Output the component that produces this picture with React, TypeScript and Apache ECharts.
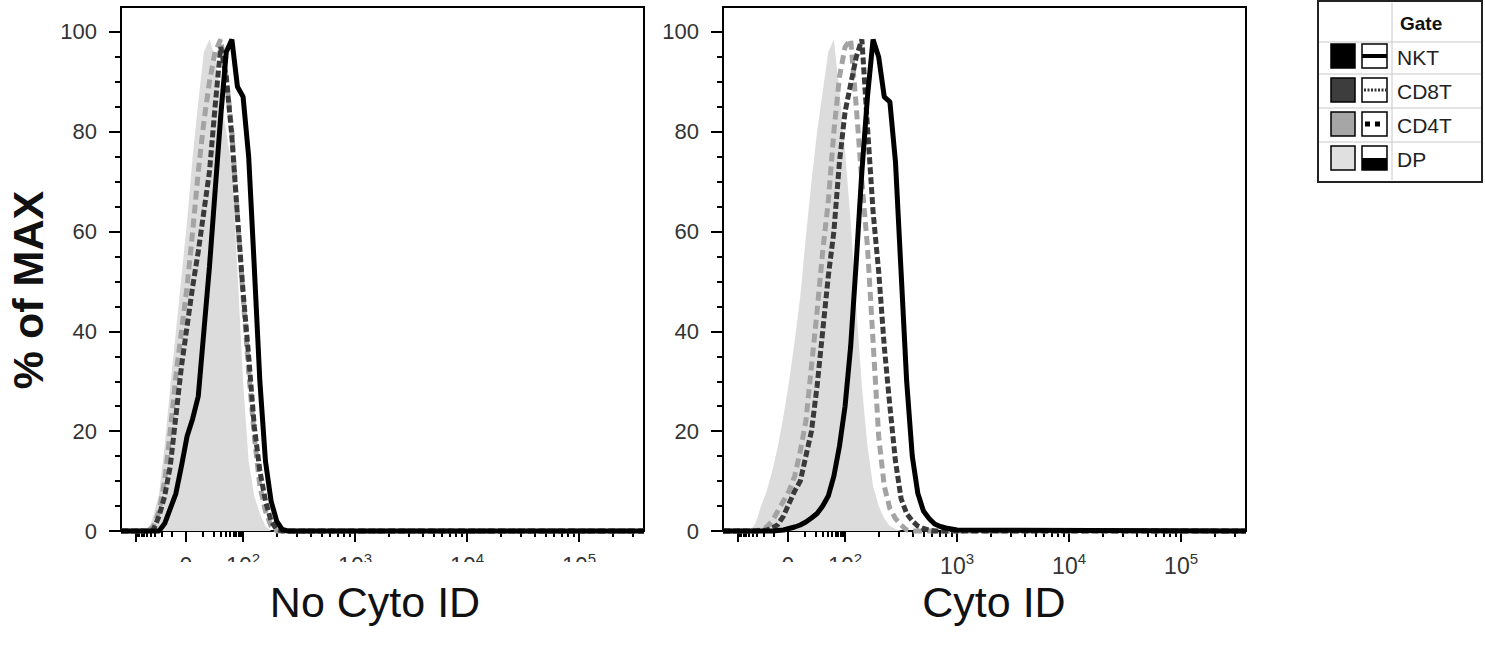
import React, { useEffect, useRef } from 'react';
import * as echarts from 'echarts';

// ---- axis design (display units: 2 = 10^2, 3 = 10^3 ...; biexponential region below 2) ----
const X_MIN = 0.91;
const X_MAX = 5.58;
const Y_MAX = 105;
const X_MAJOR_TICKS = [1.04, 1.49, 2, 3, 4, 5];
const X_LABEL_VALUES = [1.49, 2, 3, 4, 5];
const X_LABELS = ['{base|0}', '{base|10}{sup|2}', '{base|10}{sup|3}', '{base|10}{sup|4}', '{base|10}{sup|5}'];
const X_MINOR_TICKS = [
  1.056, 1.072, 1.094, 1.117, 1.143, 1.175, 1.215, 1.274, 1.36,
  1.64, 1.735, 1.8, 1.847, 1.883, 1.913, 1.939, 1.963, 1.982,
  2.301, 2.477, 2.602, 2.699, 2.778, 2.845, 2.903, 2.954,
  3.301, 3.477, 3.602, 3.699, 3.778, 3.845, 3.903, 3.954,
  4.301, 4.477, 4.602, 4.699, 4.778, 4.845, 4.903, 4.954,
  5.301, 5.477,
];
const Y_MAJOR = [0, 20, 40, 60, 80, 100];
const Y_MINOR = [5, 10, 15, 25, 30, 35, 45, 50, 55, 65, 70, 75, 85, 90, 95];

// ---- panel titles & gates ----
const PANEL_TITLES = ['No Cyto ID', 'Cyto ID'];
const GATES = ['NKT', 'CD8T', 'CD4T', 'DP'];
const GATE_SWATCH = ['#000000', '#3d3d3d', '#a6a6a6', '#e0e0e0'];

// ---- left panel (No Cyto ID) ----
const LEFT_X = [1.15, 1.2, 1.25, 1.3, 1.35, 1.4, 1.45, 1.5, 1.55, 1.6, 1.65, 1.7, 1.75, 1.8, 1.85, 1.9, 1.95, 2.0, 2.05, 2.1, 2.15, 2.2, 2.25, 2.3, 2.35, 2.4];
const LEFT_NKT = [0, 0, 0, 1.5, 4.5, 7.5, 13, 19, 22.5, 27, 40, 53, 68, 83, 96, 98.5, 89, 87, 75, 53, 30, 14, 6, 2, 0.3, 0];
const LEFT_CD8T = [0, 0.3, 3, 7, 13, 23, 33, 41, 49, 56, 64, 72, 85, 97, 91, 79, 63, 48, 35, 21, 12, 6, 2, 0.3, 0, 0];
const LEFT_CD4T = [0, 1, 4, 10, 20, 31, 40, 49, 60, 72, 82, 90, 96, 98.5, 91, 80, 63, 47, 32, 19, 9, 4, 1, 0, 0, 0];
const LEFT_DP = [0, 3, 7.5, 17, 29, 40, 51, 62, 75, 86, 96, 98.5, 95, 87, 80, 73, 52, 30, 14, 7, 3.5, 1, 0, 0, 0, 0];

// ---- right panel (Cyto ID) ----
const RIGHT_X = [1.15, 1.2, 1.25, 1.3, 1.35, 1.4, 1.45, 1.5, 1.55, 1.6, 1.65, 1.7, 1.75, 1.8, 1.85, 1.9, 1.95, 2.0, 2.05, 2.1, 2.15, 2.2, 2.25, 2.3, 2.35, 2.4, 2.45, 2.5, 2.55, 2.6, 2.65, 2.7, 2.75, 2.8, 2.85, 2.9, 2.95, 3.0];
const RIGHT_NKT = [0, 0, 0, 0, 0, 0.1, 0.2, 0.5, 0.8, 1.2, 1.8, 2.6, 3.5, 5, 7, 11, 17, 25, 37, 54, 72, 87, 98.5, 95, 87, 86, 74, 52, 30, 15, 7.5, 4, 2.5, 1.4, 0.9, 0.6, 0.4, 0.2];
const RIGHT_CD8T = [0, 0, 0.1, 0.2, 0.6, 1.3, 3, 5.5, 8, 10, 15, 20, 29, 40, 51, 60, 74, 84, 89.5, 95, 98.5, 81, 64, 52, 37, 25, 14, 6.5, 3.5, 2, 1, 0.5, 0.2, 0, 0, 0, 0, 0];
const RIGHT_CD4T = [0, 0, 0.3, 0.8, 2, 4, 6, 8, 11, 16, 22, 33, 44, 56, 66, 80, 91, 97, 98.5, 85, 70, 57, 38, 19, 9, 4.5, 2.5, 1.2, 0.2, 0, 0, 0, 0, 0, 0, 0, 0, 0];
const RIGHT_DP = [0, 1.5, 5, 8, 12, 17, 23, 30, 38, 47, 59, 70, 80, 88, 96, 98.5, 88, 76, 62, 45, 29, 17, 9, 5, 2.5, 1, 0.4, 0, 0, 0, 0, 0, 0, 0, 0, 0, 0, 0];

const FONT = '"Liberation Sans", Arial, Helvetica, sans-serif';

const PANELS = [
  { left: 121, xs: LEFT_X, values: [LEFT_NKT, LEFT_CD8T, LEFT_CD4T, LEFT_DP], titleX: 375, maskX: 112, maskW: 552 },
  { left: 723, xs: RIGHT_X, values: [RIGHT_NKT, RIGHT_CD8T, RIGHT_CD4T, RIGHT_DP], titleX: 994, maskX: 716, maskW: 186 },
];

function toPairs(xs: number[], vs: number[]) {
  return [[X_MIN, 0], ...xs.map((x, i) => [x, vs[i]]), [X_MAX, 0]];
}

function buildOption() {
  const grid: any[] = [];
  const xAxis: any[] = [];
  const yAxis: any[] = [];
  const series: any[] = [];
  const tickLine = { color: '#000', width: 2 };

  PANELS.forEach((p, gi) => {
    grid.push({
      left: p.left, top: 7, width: 523, height: 524,
      show: true, borderColor: '#000', borderWidth: 2, backgroundColor: 'transparent',
    });
    xAxis.push({
      gridIndex: gi, type: 'value', min: X_MIN, max: X_MAX, position: 'bottom',
      axisLine: { show: true, onZero: false, lineStyle: tickLine },
      axisTick: { show: true, customValues: X_MAJOR_TICKS, length: 11, lineStyle: tickLine },
      axisLabel: {
        show: true, customValues: X_LABEL_VALUES, margin: 20,
        color: '#333', fontSize: 23, lineHeight: 30, fontFamily: FONT,
        formatter: (v: number) => {
          const i = X_LABEL_VALUES.findIndex((c) => Math.abs(c - v) < 1e-6);
          return i >= 0 ? X_LABELS[i] : '';
        },
        rich: {
          base: { fontSize: 23, lineHeight: 30, color: '#333', fontFamily: FONT },
          sup: { fontSize: 15, verticalAlign: 'top', color: '#333', fontFamily: FONT },
        },
      },
      splitLine: { show: false },
    });
    xAxis.push({
      gridIndex: gi, type: 'value', min: X_MIN, max: X_MAX, position: 'bottom',
      axisLine: { show: false, onZero: false },
      axisTick: { show: true, customValues: X_MINOR_TICKS, length: 6, lineStyle: tickLine },
      axisLabel: { show: false },
      splitLine: { show: false },
    });
    yAxis.push({
      gridIndex: gi, type: 'value', min: 0, max: Y_MAX, position: 'left',
      axisLine: { show: true, onZero: false, lineStyle: tickLine },
      axisTick: { show: true, customValues: Y_MAJOR, length: 12, lineStyle: tickLine },
      axisLabel: { show: true, customValues: Y_MAJOR, margin: 24, color: '#333', fontSize: 22, fontFamily: FONT },
      splitLine: { show: false },
    });
    yAxis.push({
      gridIndex: gi, type: 'value', min: 0, max: Y_MAX, position: 'left',
      axisLine: { show: false, onZero: false },
      axisTick: { show: true, customValues: Y_MINOR, length: 6, lineStyle: tickLine },
      axisLabel: { show: false },
      splitLine: { show: false },
    });

    const ax = gi * 2;
    // DP (filled), CD4T, CD8T, NKT drawn in this order
    series.push({
      name: GATES[3], type: 'line', xAxisIndex: ax, yAxisIndex: ax, clip: false,
      data: toPairs(p.xs, p.values[3]), symbol: 'none', showSymbol: false,
      lineStyle: { width: 0, color: '#dcdcdc' }, areaStyle: { color: '#dcdcdc', opacity: 1 },
      z: 1,
    });
    series.push({
      name: GATES[2], type: 'line', xAxisIndex: ax, yAxisIndex: ax, clip: false,
      data: toPairs(p.xs, p.values[2]), symbol: 'none', showSymbol: false,
      lineStyle: { width: 5, color: '#a3a3a3', type: [9, 5], cap: 'butt' },
      z: 2,
    });
    series.push({
      name: GATES[1], type: 'line', xAxisIndex: ax, yAxisIndex: ax, clip: false,
      data: toPairs(p.xs, p.values[1]), symbol: 'none', showSymbol: false,
      lineStyle: { width: 5, color: '#3a3a3a', type: [7, 3], cap: 'butt' },
      z: 3,
    });
    series.push({
      name: GATES[0], type: 'line', xAxisIndex: ax, yAxisIndex: ax, clip: false,
      data: toPairs(p.xs, p.values[0]), symbol: 'none', showSymbol: false,
      lineStyle: { width: 5, color: '#000000' },
      z: 4,
    });
  });

  const graphic: any[] = [];
  PANELS.forEach((p, gi) => {
    // mask hiding the lower part of the tick labels, as in the source figure
    graphic.push({ type: 'rect', shape: { x: p.maskX, y: 562, width: p.maskW, height: 15 }, style: { fill: '#fff' }, z: 50 });
    graphic.push({
      type: 'text', x: p.titleX, y: 602, z: 100,
      style: {
        text: PANEL_TITLES[gi], font: `43px ${FONT}`, fill: '#111',
        textAlign: 'center', textVerticalAlign: 'middle', align: 'center', verticalAlign: 'middle',
      },
    });
  });
  graphic.push({
    type: 'text', x: 28, y: 290, rotation: Math.PI / 2, z: 100,
    style: {
      text: '% of MAX', font: `bold 43px ${FONT}`, fill: '#111',
      textAlign: 'center', textVerticalAlign: 'middle', align: 'center', verticalAlign: 'middle',
    },
  });

  // legend table
  const L = 1318, T = 1, W = 164, H = 181;
  graphic.push({ type: 'rect', shape: { x: L, y: T, width: W, height: H }, style: { fill: '#fff', stroke: '#222', lineWidth: 2 }, z: 10 });
  graphic.push({ type: 'line', shape: { x1: 1392, y1: T + 2, x2: 1392, y2: T + H - 2 }, style: { stroke: '#c8c8c8', lineWidth: 1 }, z: 11 });
  [42, 74, 108, 142].forEach((yy) => {
    graphic.push({ type: 'line', shape: { x1: L + 1, y1: yy, x2: L + W - 1, y2: yy }, style: { stroke: '#c8c8c8', lineWidth: 1 }, z: 11 });
  });
  graphic.push({
    type: 'text', x: 1400, y: 23, z: 12,
    style: { text: 'Gate', font: `bold 19px ${FONT}`, fill: '#111', textAlign: 'left', textVerticalAlign: 'middle', align: 'left', verticalAlign: 'middle' },
  });
  GATES.forEach((g, i) => {
    const top = 44 + i * 34;
    graphic.push({ type: 'rect', shape: { x: 1331, y: top, width: 24, height: 24 }, style: { fill: GATE_SWATCH[i], stroke: '#000', lineWidth: 1.5 }, z: 12 });
    graphic.push({ type: 'rect', shape: { x: 1362, y: top, width: 25, height: 24 }, style: { fill: '#fff', stroke: '#000', lineWidth: 1.5 }, z: 12 });
    if (i === 0) {
      graphic.push({ type: 'rect', shape: { x: 1362, y: top + 10, width: 25, height: 4 }, style: { fill: '#000' }, z: 13 });
    } else if (i === 1) {
      graphic.push({ type: 'line', shape: { x1: 1364, y1: top + 12, x2: 1386, y2: top + 12 }, style: { stroke: '#333', lineWidth: 3, lineDash: [2, 1.5] }, z: 13 });
    } else if (i === 2) {
      graphic.push({ type: 'line', shape: { x1: 1365, y1: top + 12, x2: 1381, y2: top + 12 }, style: { stroke: '#000', lineWidth: 5, lineDash: [5, 5] }, z: 13 });
    } else {
      graphic.push({ type: 'rect', shape: { x: 1362, y: top + 12, width: 25, height: 12 }, style: { fill: '#000' }, z: 13 });
    }
    graphic.push({
      type: 'text', x: 1397, y: top + 13, z: 12,
      style: { text: g, font: `21px ${FONT}`, fill: '#222', textAlign: 'left', textVerticalAlign: 'middle', align: 'left', verticalAlign: 'middle' },
    });
  });

  return {
    animation: false,
    backgroundColor: '#fff',
    textStyle: { fontFamily: FONT },
    grid, xAxis, yAxis, series, graphic,
  };
}

export default function App() {
  const ref = useRef<HTMLDivElement>(null);
  useEffect(() => {
    if (!ref.current) return;
    const chart = echarts.init(ref.current, undefined, { renderer: 'svg' });
    chart.setOption(buildOption() as any);
    return () => chart.dispose();
  }, []);
  return <div ref={ref} style={{ position: 'fixed', left: 0, top: 0, width: 1485, height: 646, background: '#fff' }} />;
}
